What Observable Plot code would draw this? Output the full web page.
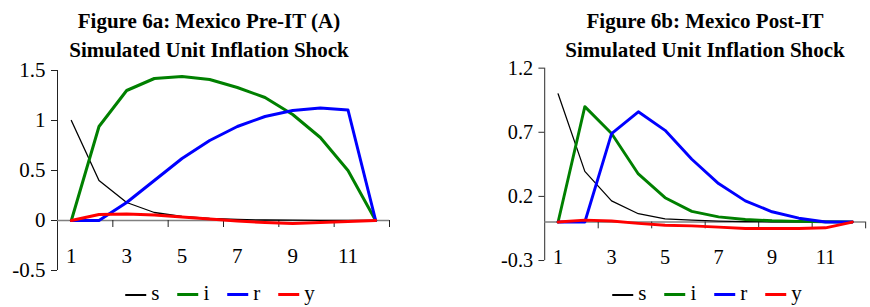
<!DOCTYPE html>
<html><head><meta charset="utf-8">
<script src="https://cdn.jsdelivr.net/npm/d3@7"></script>
<script src="https://cdn.jsdelivr.net/npm/@observablehq/plot@0.6"></script>
<style>
body{margin:0;width:870px;height:307px;overflow:hidden;background:#fff;font-family:"Liberation Serif","Times New Roman",serif;}
#wrap{position:relative;width:870px;height:307px;overflow:hidden;}
.panel{position:absolute;top:0;}
.title{position:absolute;font-weight:bold;font-size:21px;text-align:center;white-space:nowrap;line-height:29px;transform:translateX(-50%);}
.legend{position:absolute;top:283px;display:flex;align-items:center;font-size:21px;line-height:21px;transform:translateX(-50%);white-space:nowrap;}
.legend .item{display:flex;align-items:center;margin-right:18px;}
.legend .sw{width:21px;margin-right:5px;margin-top:2px;}
</style>
</head><body>
<div id="wrap"></div>
<script>
const periods = [1,2,3,4,5,6,7,8,9,10,11,12];
const seriesNames = ["s","i","r","y"];
const seriesColors = ["#000000","#008000","#0000FF","#FF0000"];
const seriesWidths = [1.3,3,3,3];

// Figure 6a: Pre-IT
const sPre = [1.0,0.40,0.18,0.08,0.04,0.02,0.01,0.005,0.003,0.002,0.001,0];
const iPre = [0,0.94,1.30,1.42,1.44,1.41,1.33,1.23,1.06,0.83,0.50,0];
const rPre = [0,0,0.18,0.40,0.62,0.80,0.94,1.04,1.10,1.125,1.105,0];
const yPre = [0,0.06,0.065,0.055,0.035,0.015,-0.005,-0.02,-0.03,-0.02,-0.01,0];

// Figure 6b: Post-IT
const sPost = [1.0,0.395,0.165,0.065,0.025,0.015,0.008,0.004,0.002,0.001,0,0];
const iPost = [0,0.90,0.69,0.375,0.19,0.083,0.04,0.02,0.01,0.005,0.002,0];
const rPost = [0,0,0.69,0.86,0.715,0.49,0.30,0.165,0.08,0.03,0,0];
const yPost = [0,0.015,0.008,-0.01,-0.025,-0.03,-0.04,-0.05,-0.05,-0.05,-0.045,0];

const yTicksPre = [-0.5,0,0.5,1,1.5];
const yTicksPost = [-0.3,0.2,0.7,1.2];
const xLabels = [1,3,5,7,9,11];
const xTickMarks = [2.5,4.5,6.5,8.5,10.5,12.5];

const titlePre = ["Figure 6a: Mexico Pre-IT (A)","Simulated Unit Inflation Shock"];
const titlePost = ["Figure 6b: Mexico Post-IT","Simulated Unit Inflation Shock"];

function table(arrs){
  const rows=[];
  arrs.forEach((a,k)=>a.forEach((v,j)=>rows.push({t:periods[j],v,series:seriesNames[k]})));
  return rows;
}

function chart(arrs, yDomain, yTicks, opts){
  const data = table(arrs);
  return Plot.plot({
    width: opts.width, height: 307,
    marginTop: 70, marginBottom: opts.mb, marginLeft: opts.ml, marginRight: opts.mr,
    x: {domain:[0.5,12.5], axis:null},
    y: {domain:yDomain, axis:null},
    style: {fontFamily:'"Liberation Serif","Times New Roman",serif', fontSize:"21px", color:"#000", background:"transparent", overflow:"visible"},
    marks: [
      Plot.ruleX([0.5], {y1:yDomain[0], y2:yDomain[1], stroke:"#222", strokeWidth:1}),
      Plot.axisY({ticks:yTicks, tickSize:6, tickPadding:6, tickFormat:d=>String(d), label:null, stroke:"#222", fontSize:21}),
      Plot.ruleY([0], {x1:0.5, x2:12.5, stroke:"#808080", strokeWidth:1.5}),
      Plot.ruleX(xTickMarks, {x:d=>d, y1:0, y2:0, insetBottom:-7, stroke:"#222", strokeWidth:1}),
      Plot.text(xLabels, {x:d=>d, y:0, dy:opts.labelDy, text:d=>String(d), fontSize:21}),
      ...seriesNames.map((nm,k)=>Plot.line(data.filter(d=>d.series===nm), {x:"t", y:"v", stroke:seriesColors[k], strokeWidth:seriesWidths[k], strokeLinejoin:"round"}))
    ]
  });
}

const wrap = document.getElementById("wrap");
function addPanel(left, svg){
  const p=document.createElement("div"); p.className="panel"; p.style.left=left+"px"; p.appendChild(svg); wrap.appendChild(p);
}
function addTitle(cx, lines){
  const t=document.createElement("div"); t.className="title"; t.style.left=cx+"px"; t.style.top="7px";
  t.innerHTML=lines.map(l=>"<div>"+l+"</div>").join(""); wrap.appendChild(t);
}
function addLegend(cx){
  const l=document.createElement("div"); l.className="legend"; l.style.left=cx+"px";
  seriesNames.forEach((nm,k)=>{
    const it=document.createElement("div"); it.className="item";
    const sw=document.createElement("div"); sw.className="sw"; sw.style.borderTop=(k===0?2:3)+"px solid "+seriesColors[k];
    const tx=document.createElement("span"); tx.textContent=nm;
    it.appendChild(sw); it.appendChild(tx); l.appendChild(it);
  });
  wrap.appendChild(l);
}

addPanel(0, chart([sPre,iPre,rPre,yPre], [-0.5,1.5], yTicksPre, {width:435, ml:57, mr:46, mb:37, labelDy:36}));
addPanel(435, chart([sPost,iPost,rPost,yPost], [-0.3,1.2], yTicksPost, {width:450, ml:113, mr:5, mb:38, labelDy:37}));
addTitle(209, titlePre);
addTitle(705, titlePost);
addLegend(229);
addLegend(716);
</script>
</body></html>
